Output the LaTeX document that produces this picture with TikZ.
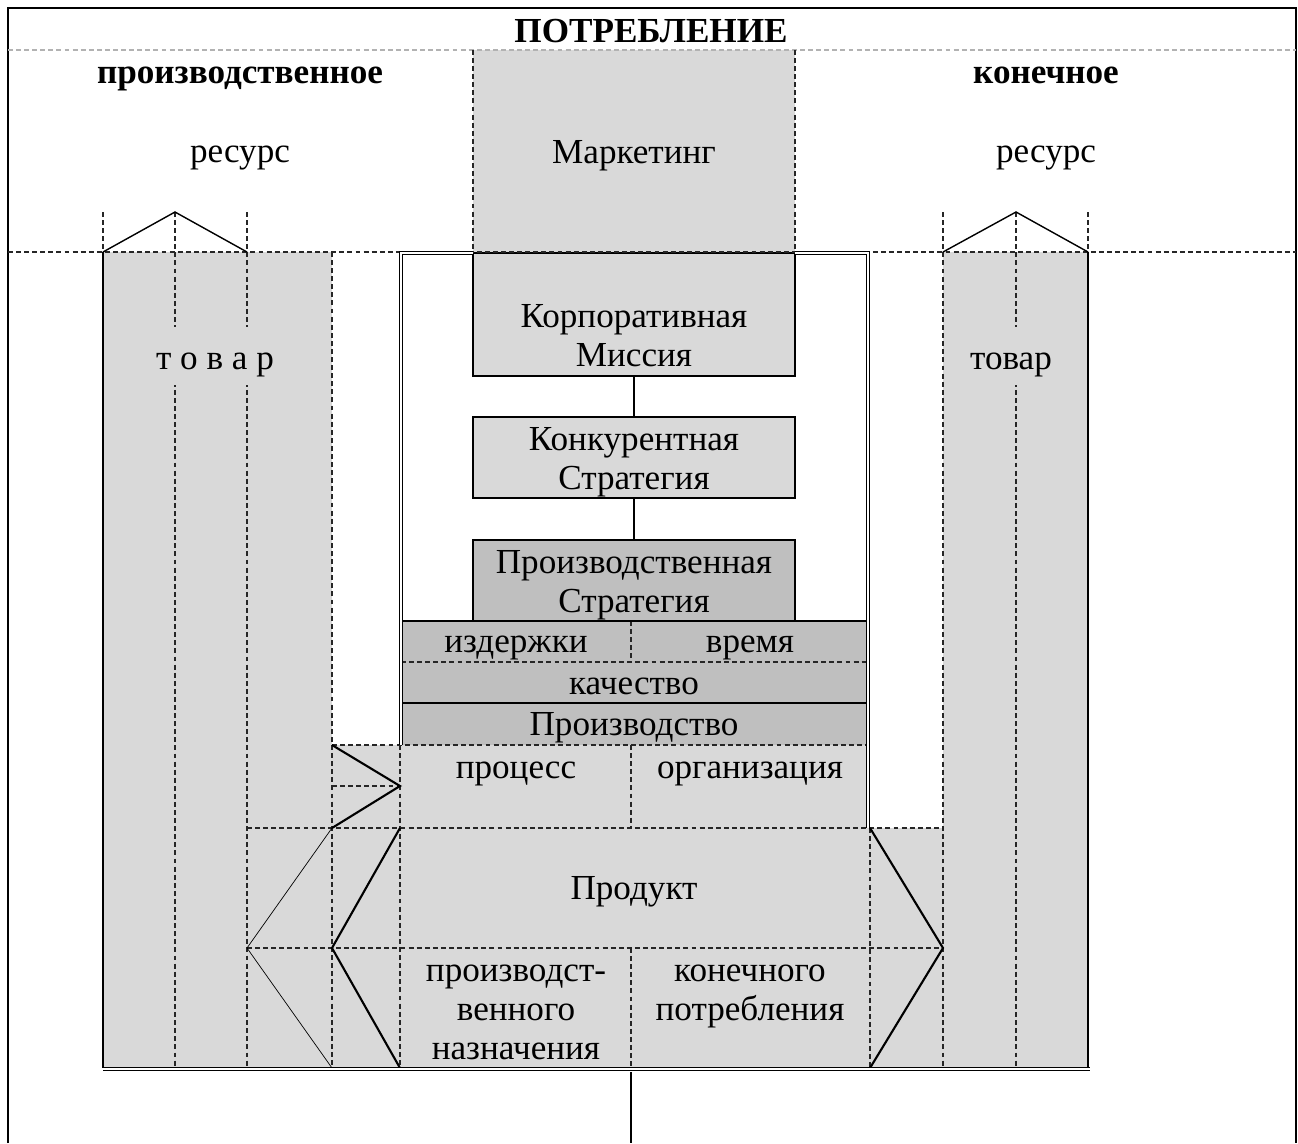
\documentclass[tikz,border=0pt]{standalone}
\usepackage{fontspec}
\setmainfont{Liberation Serif}
\definecolor{lightfill}{gray}{0.85}
\definecolor{darkfill}{gray}{0.75}

\begin{document}
\begin{tikzpicture}[x=0.02cm,y=-0.02cm,font=\fontsize{20}{22}\selectfont,
    dsh/.style={dash pattern=on 2.8pt off 1.8pt,line width=0.6pt,black!85},
    ln/.style={line width=0.8pt},
    diag/.style={line width=1.2pt},
    dbl/.style={double,double distance=1pt,line width=0.8pt},
    txt/.style={anchor=base,align=center,inner sep=0pt},
    head/.style={txt,font=\fontsize{20}{22}\selectfont\bfseries},
    box/.style={draw,line width=0.8pt,minimum width=6.44cm,minimum height=1.62cm,inner sep=0pt}]
        \useasboundingbox (0,0) rectangle (1298,1143);
        % fills
        \fill[lightfill] (473,50) rectangle (795,253);
        \fill[lightfill] (103,252) rectangle (332,1068);
        \fill[lightfill] (332,745) rectangle (868,828);
        \fill[lightfill] (332,828) rectangle (943,1068);
        \fill[lightfill] (943,252) rectangle (1088,1068);
        \fill[darkfill] (401,621) rectangle (868,745);
        \draw[ln,fill=lightfill] (473,253) rectangle (795,376);
        % frame
        \draw[line width=1.3pt] (8,1143)--(8,8)--(1296,8)--(1296,1143);
        \draw[dsh,black!30] (8,50)--(1296,50);
        \draw[dsh] (8,252)--(1296,252);
        \draw[dsh] (473,50)--(473,253);
        \draw[dsh] (795,50)--(795,253);
        % left column
        \draw[dsh] (103,212)--(103,252);
        \draw[dsh] (175,212)--(175,1068);
        \draw[dsh] (247,212)--(247,1068);
        \draw[dsh] (332,252)--(332,1068);
        \draw[ln] (103,252)--(175,212)--(247,252);
        \draw[ln] (103,252)--(103,1068);
        % right column
        \draw[dsh] (1088,212)--(1088,252);
        \draw[dsh] (1016,212)--(1016,1068);
        \draw[dsh] (943,212)--(943,1068);
        \draw[ln] (943,252)--(1016,212)--(1088,252);
        \draw[ln] (1088,252)--(1088,1068);
        % production rows
        \draw[ln] (401,621)--(868,621);
        \draw[dsh] (401,662)--(868,662);
        \draw[ln] (401,703)--(868,703);
        \draw[dsh] (332,745)--(868,745);
        \draw[dsh] (332,786)--(400,786);
        \draw[dsh] (247,828)--(943,828);
        \draw[dsh] (247,948)--(943,948);
        \draw[dsh] (400,745)--(400,1068);
        \draw[dsh] (870,828)--(870,1068);
        \draw[dsh] (631,621)--(631,662);
        \draw[dsh] (631,745)--(631,828);
        \draw[dsh] (631,948)--(631,1068);
        \draw[diag] (332,745)--(400,786)--(332,828);
        \draw[line width=0.4pt] (332,828)--(247,948)--(332,1068);
        \draw[diag] (400,828)--(332,948)--(400,1068);
        \draw[diag] (870,828)--(943,948)--(870,1068);
        \draw[dbl] (401,745)--(401,253)--(473,253);
        \draw[dbl] (795,253)--(868,253)--(868,828);
        \draw[dbl] (103,1069)--(1090,1069);
        % boxes
        \node[txt] (mission) at (634,366) {Корпоративная\\Миссия};
        \coordinate (missionbot) at (634,376);
        \node[box,fill=lightfill] (rival) at (634,457.5) {};
        \node[txt] at (634,489) {Конкурентная\\Стратегия};
        \node[box,fill=darkfill] (prodstrat) at (634,580.5) {};
        \node[txt] at (634,612) {Производственная\\Стратегия};
        \draw[ln] (missionbot)--(rival.north);
        \draw[ln] (rival.south)--(prodstrat.north);
        \coordinate (base) at (631,1143);
        \draw[ln] (631,1072)--(base);
        % labels
        \node[head] (consume) at (651,42) {ПОТРЕБЛЕНИЕ};
        \node[head] (prodkind) at (240,83) {производственное};
        \node[head] (finalkind) at (1046,83) {конечное};
        \node[txt] (resleft) at (240,162) {ресурс};
        \node[txt] (resright) at (1046,162) {ресурс};
        \node[txt] (marketing) at (634,163) {Маркетинг};
        \fill[lightfill] (125,327) rectangle (305,385);
        \node[txt] (goodsleft) at (215,369) {т о в а р};
        \fill[lightfill] (947,327) rectangle (1075,385);
        \node[txt] (goodsright) at (1011,369) {товар};
        \node[txt] (costs) at (516,652) {издержки};
        \node[txt] (time) at (750,652) {время};
        \node[txt] (quality) at (634,694) {качество};
        \node[txt] (production) at (634,735) {Производство};
        \node[txt] (process) at (516,778) {процесс};
        \node[txt] (organization) at (750,778) {организация};
        \node[txt] (product) at (634,899) {Продукт};
        \node[txt] (industrial) at (516,1059) {производст-\\венного\\назначения};
        \node[txt] (consumer) at (750,1020) {конечного\\потребления};
      \end{tikzpicture}
\end{document}
